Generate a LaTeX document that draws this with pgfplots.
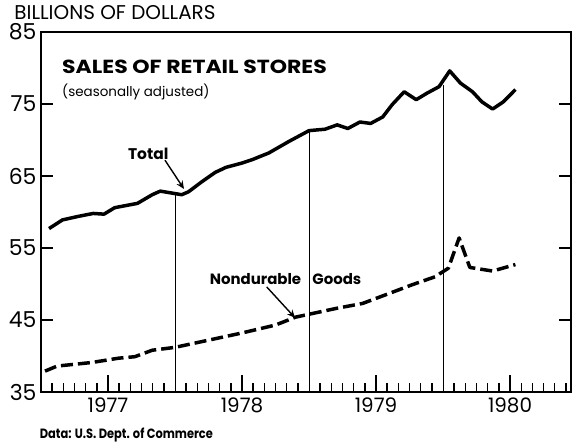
\documentclass[border=0pt]{standalone}
\usepackage{fontspec}
\setmainfont{Poppins}
\usepackage{pgfplots}
\pgfplotsset{compat=1.18}
\usetikzlibrary{arrows.meta}

\begin{document}
\begin{tikzpicture}
\begin{axis}[
    scale only axis,
    width=530bp, height=360bp,
    xmin=1977, xmax=1980.955,
    ymin=35, ymax=85,
    clip=false,
    axis line style={black, line width=2pt},
    ytick={35,45,55,65,75,85},
    xtick={1977.5,1978.5,1979.5,1980.5},
    xticklabels={1977,1978,1979,1980},
    minor xtick={1977.0833,1977.1667,1977.25,1977.3333,1977.4167,1977.5833,1977.6667,1977.75,1977.8333,1977.9167,
                 1978.0833,1978.1667,1978.25,1978.3333,1978.4167,1978.5833,1978.6667,1978.75,1978.8333,1978.9167,
                 1979.0833,1979.1667,1979.25,1979.3333,1979.4167,1979.5833,1979.6667,1979.75,1979.8333,1979.9167,
                 1980.0833,1980.1667,1980.25,1980.3333,1980.4167,1980.5833,1980.6667,1980.75,1980.8333,1980.9167},
    xtick pos=bottom,
    ytick pos=both,
    tick align=inside,
    major tick length=12bp,
    minor tick length=9bp,
    tick style={black, line width=1.4pt},
    /pgf/number format/assume math mode=true,
    yticklabel style={font=\fontsize{22}{22}\selectfont, xshift=-1bp},
    xticklabel style={font=\fontsize{20}{20}\selectfont, yshift=-2bp},
]
% year separators up to the total line
\addplot[black, line width=1pt] coordinates {(1978,35) (1978,62.5)};
\addplot[black, line width=1pt] coordinates {(1979,35) (1979,71.3)};
\addplot[black, line width=1pt] coordinates {(1980,35) (1980,77.6)};

% longer mid-year ticks
\addplot[black, line width=1.4pt] coordinates {(1977.5,35) (1977.5,37.36)};
\addplot[black, line width=1.4pt] coordinates {(1978.5,35) (1978.5,37.36)};
\addplot[black, line width=1.4pt] coordinates {(1979.5,35) (1979.5,37.36)};
\addplot[black, line width=1.4pt] coordinates {(1980.5,35) (1980.5,37.36)};

% total
\addplot[black, line width=3.5pt, line join=round] coordinates {
    (1977.06,57.7) (1977.16,58.9) (1977.28,59.4) (1977.39,59.8) (1977.47,59.7)
    (1977.55,60.6) (1977.72,61.2) (1977.83,62.4) (1977.89,62.9) (1978.05,62.4)
    (1978.1,62.8) (1978.2,64.2) (1978.3,65.5) (1978.38,66.2) (1978.5,66.8)
    (1978.58,67.3) (1978.7,68.2) (1978.85,69.8) (1979.0,71.3) (1979.12,71.5)
    (1979.21,72.1) (1979.29,71.6) (1979.38,72.5) (1979.46,72.3) (1979.55,73.2)
    (1979.62,74.9) (1979.71,76.7) (1979.80,75.6) (1979.88,76.5) (1979.97,77.4)
    (1980.05,79.6) (1980.13,77.9) (1980.22,76.7) (1980.29,75.3) (1980.37,74.3)
    (1980.45,75.3) (1980.54,77.0)
};

% nondurable goods
\addplot[black, line width=3.5pt, dash pattern=on 12bp off 5bp, line join=round] coordinates {
    (1977.03,37.9) (1977.12,38.6) (1977.38,39.1) (1977.58,39.7) (1977.70,39.9)
    (1977.83,40.8) (1978.0,41.2) (1978.25,42.2) (1978.5,43.2) (1978.75,44.3)
    (1978.9,45.4) (1979.0,45.8) (1979.2,46.6) (1979.4,47.3) (1979.6,48.7)
    (1979.77,49.9) (1979.94,51.0) (1980.04,52.2) (1980.12,56.4) (1980.2,52.3)
    (1980.37,51.8) (1980.54,52.7)
};

% texts
\node[anchor=west, inner sep=0pt, font=\fontsize{20}{20}\selectfont] at (axis cs:1976.80,87.7) {BILLIONS OF DOLLARS};
\node[anchor=west, inner sep=0pt, font=\bfseries\fontsize{19}{19}\selectfont] at (axis cs:1977.157,80.1) {\scalebox{1.16}[1]{SALES OF RETAIL STORES}};
\node[anchor=west, inner sep=0pt, font=\fontsize{13.5}{13.5}\selectfont] at (axis cs:1977.157,76.7) {(seasonally adjusted)};
\node[font=\bfseries\fontsize{15.5}{15.5}\selectfont] at (axis cs:1977.80,68.1) {Total};
\draw[line width=1.4pt, -{Stealth[length=8bp,width=7bp]}] (axis cs:1977.925,67.2) -- (axis cs:1978.067,63.2);
\node[font=\bfseries\fontsize{15}{15}\selectfont] at (axis cs:1978.825,50.7) {Nondurable\hspace{0.75em}Goods};
\draw[line width=1.4pt, -{Stealth[length=8bp,width=7bp]}] (axis cs:1978.684,49.6) -- (axis cs:1978.896,45.3);
\node[anchor=west, inner sep=0pt, font=\bfseries\fontsize{13.5}{13.5}\selectfont] at (axis cs:1976.99,29.0) {\scalebox{0.85}[1]{Data: U.S. Dept. of Commerce}};
\end{axis}
% fix the outer size of the picture (572 x 444)
\path (-41bp,-52bp) rectangle (531bp,392bp);
\end{tikzpicture}
\end{document}
